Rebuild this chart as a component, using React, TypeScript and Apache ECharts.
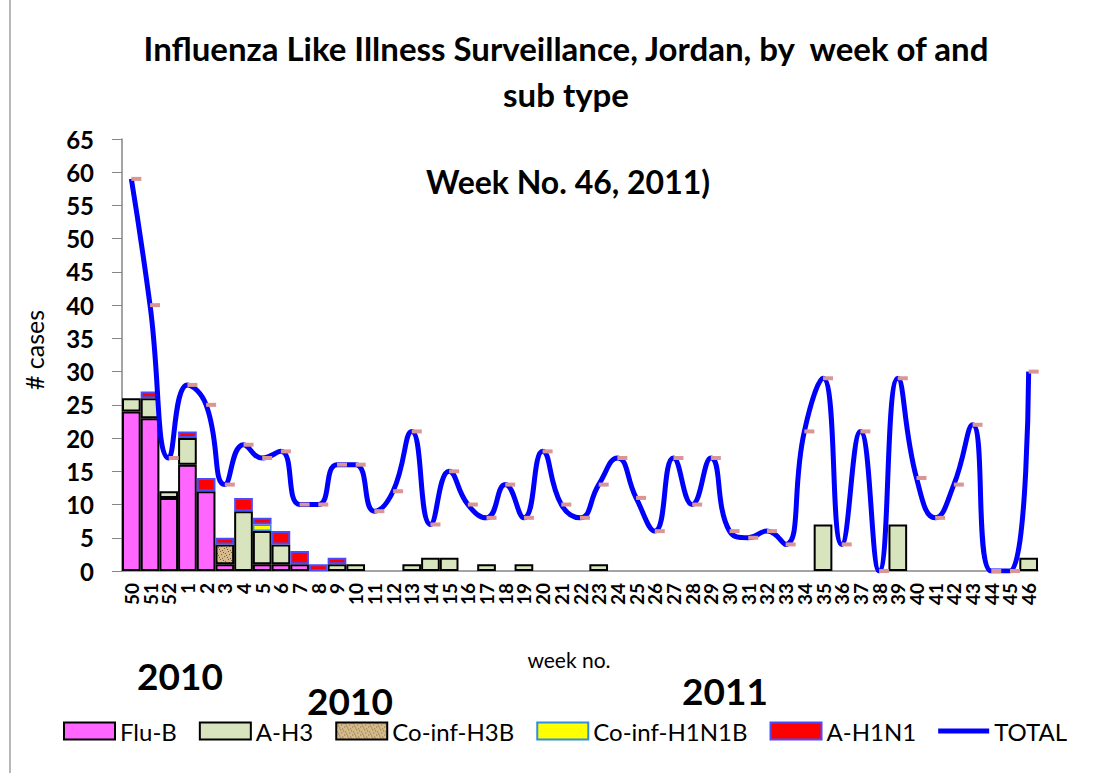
import React, { useEffect, useRef } from 'react';
import * as echarts from 'echarts';

const weeks = ['50', '51', '52', '1', '2', '3', '4', '5', '6', '7', '8', '9', '10', '11', '12', '13', '14', '15', '16', '17', '18', '19', '20', '21', '22', '23', '24', '25', '26', '27', '28', '29', '30', '31', '32', '33', '34', '35', '36', '37', '38', '39', '40', '41', '42', '43', '44', '45', '46'];

const fluB = [24, 23, 11, 16, 12, 1, 0, 1, 1, 1, 0, 0, 0, 0, 0, 0, 0, 0, 0, 0, 0, 0, 0, 0, 0, 0, 0, 0, 0, 0, 0, 0, 0, 0, 0, 0, 0, 0, 0, 0, 0, 0, 0, 0, 0, 0, 0, 0, 0];
const aH3 = [2, 3, 1, 4, 0, 0, 9, 5, 3, 0, 0, 1, 1, 0, 0, 1, 2, 2, 0, 1, 0, 1, 0, 0, 0, 1, 0, 0, 0, 0, 0, 0, 0, 0, 0, 0, 0, 7, 0, 0, 0, 7, 0, 0, 0, 0, 0, 0, 2];
const coInfH3B = [0, 0, 0, 0, 0, 3, 0, 0, 0, 0, 0, 0, 0, 0, 0, 0, 0, 0, 0, 0, 0, 0, 0, 0, 0, 0, 0, 0, 0, 0, 0, 0, 0, 0, 0, 0, 0, 0, 0, 0, 0, 0, 0, 0, 0, 0, 0, 0, 0];
const coInfH1N1B = [0, 0, 0, 0, 0, 0, 0, 1, 0, 0, 0, 0, 0, 0, 0, 0, 0, 0, 0, 0, 0, 0, 0, 0, 0, 0, 0, 0, 0, 0, 0, 0, 0, 0, 0, 0, 0, 0, 0, 0, 0, 0, 0, 0, 0, 0, 0, 0, 0];
const aH1N1 = [0, 1, 0, 1, 2, 1, 2, 1, 2, 2, 1, 1, 0, 0, 0, 0, 0, 0, 0, 0, 0, 0, 0, 0, 0, 0, 0, 0, 0, 0, 0, 0, 0, 0, 0, 0, 0, 0, 0, 0, 0, 0, 0, 0, 0, 0, 0, 0, 0];
const total = [59, 40, 17, 28, 25, 13, 19, 17, 18, 10, 10, 16, 16, 9, 12, 21, 7, 15, 10, 8, 13, 8, 18, 10, 8, 13, 17, 11, 6, 17, 10, 17, 6, 5, 6, 4, 21, 29, 4, 21, 0, 29, 14, 8, 13, 22, 0, 0, 30];

const yTicks = { min: 0, max: 65, interval: 5 };

const FONT = 'Lato, "Open Sans", sans-serif';

export default function App() {
  const ref = useRef<HTMLDivElement>(null);
  useEffect(() => {
    const chart = echarts.init(ref.current!, null, { renderer: 'svg' });

    const cv = document.createElement('canvas');
    cv.width = 8;
    cv.height = 8;
    const ctx = cv.getContext('2d')!;
    ctx.fillStyle = '#d6bb8c';
    ctx.fillRect(0, 0, 8, 8);
    ctx.fillStyle = '#7c5c34';
    [[1, 1], [5, 2], [3, 5], [6, 6], [0, 4], [2, 3], [7, 0], [4, 7]].forEach(([x, y]) => ctx.fillRect(x, y, 1, 1));
    const texture: any = { image: cv, repeat: 'repeat' };

    const nz = (arr: number[]) => arr.map((v) => (v === 0 ? '-' : v));

    const barBase = {
      type: 'bar',
      stack: 'cases',
      barCategoryGap: '0%',
      barGap: '0%',
      z: 2,
    };

    chart.setOption({
      animation: false,
      backgroundColor: '#fff',
      grid: { left: 122, right: 72, top: 139, bottom: 202, containLabel: false },
      legend: {
        left: 58,
        top: 714,
        itemWidth: 51,
        itemHeight: 17,
        itemGap: 22,
        textStyle: { fontFamily: FONT, fontSize: 24, color: '#000' },
        data: [
          { name: 'Flu-B', icon: 'rect' },
          { name: 'A-H3', icon: 'rect' },
          { name: 'Co-inf-H3B', icon: 'rect' },
          { name: 'Co-inf-H1N1B', icon: 'rect' },
          { name: 'A-H1N1', icon: 'rect' },
          { name: 'TOTAL', icon: 'path://M0,0 L53,0 L53,5 L0,5 Z', itemStyle: { color: '#0000ff', borderWidth: 0 } },
        ],
      },
      xAxis: {
        type: 'category',
        data: weeks,
        axisLine: { lineStyle: { color: '#868686', width: 1.5 } },
        axisTick: { interval: 0, length: 7, lineStyle: { color: '#868686' } },
        axisLabel: {
          interval: 0,
          rotate: 90,
          fontFamily: FONT,
          fontWeight: 'bold',
          fontSize: 19,
          color: '#000',
          margin: 12,
        },
      },
      yAxis: {
        type: 'value',
        min: yTicks.min,
        max: yTicks.max,
        interval: yTicks.interval,
        axisLine: { show: true, lineStyle: { color: '#868686', width: 1.5 } },
        axisTick: { show: true, length: 10, lineStyle: { color: '#868686' } },
        splitLine: { show: false },
        axisLabel: { fontFamily: FONT, fontWeight: 'bold', fontSize: 24, color: '#000', margin: 28 },
      },
      series: [
        { ...barBase, name: 'Flu-B', data: nz(fluB), itemStyle: { color: '#ff66ff', borderColor: '#000', borderWidth: 2 } },
        { ...barBase, name: 'A-H3', data: nz(aH3), itemStyle: { color: '#d7e4bd', borderColor: '#000', borderWidth: 2 } },
        { ...barBase, name: 'Co-inf-H3B', data: nz(coInfH3B), itemStyle: { color: texture, borderColor: '#000', borderWidth: 2 } },
        { ...barBase, name: 'Co-inf-H1N1B', data: nz(coInfH1N1B), itemStyle: { color: '#ffff00', borderColor: '#2f8fdf', borderWidth: 1.5 } },
        { ...barBase, name: 'A-H1N1', data: nz(aH1N1), itemStyle: { color: '#ff0000', borderColor: '#4a4aff', borderWidth: 2 } },
        {
          type: 'line',
          name: 'TOTAL',
          data: total,
          smooth: 0.5,
          z: 5,
          lineStyle: { color: '#0000ff', width: 5 },
          itemStyle: { color: '#d99694' },
          symbol: 'rect',
          symbolSize: [10, 4],
          symbolOffset: [5, 0],
          showAllSymbol: true,
        },
      ],
      graphic: [
        { type: 'line', shape: { x1: 10, y1: 0, x2: 10, y2: 773 }, style: { stroke: '#a0a0a0', lineWidth: 1.5 } },
        { type: 'text', x: 566, y: 48, style: { text: 'Influenza Like Illness Surveillance, Jordan, by  week of and', fontFamily: FONT, fontWeight: 'bold', fontSize: 33, fill: '#000', align: 'center', verticalAlign: 'middle' } },
        { type: 'text', x: 566, y: 94, style: { text: 'sub type', fontFamily: FONT, fontWeight: 'bold', fontSize: 33, fill: '#000', align: 'center', verticalAlign: 'middle' } },
        { type: 'text', x: 568, y: 181, style: { text: 'Week No. 46, 2011)', fontFamily: FONT, fontWeight: 'bold', fontSize: 32, fill: '#000', align: 'center', verticalAlign: 'middle' } },
        { type: 'text', x: 34, y: 350, rotation: Math.PI / 2, style: { text: '# cases', fontFamily: FONT, fontSize: 25, fill: '#000', align: 'center', verticalAlign: 'middle' } },
        { type: 'text', x: 569, y: 659, style: { text: 'week no.', fontFamily: FONT, fontSize: 21, fill: '#000', align: 'center', verticalAlign: 'middle' } },
        { type: 'text', x: 180, y: 675, style: { text: '2010', fontFamily: FONT, fontWeight: 'bold', fontSize: 37, fill: '#000', align: 'center', verticalAlign: 'middle' } },
        { type: 'text', x: 350, y: 700, style: { text: '2010', fontFamily: FONT, fontWeight: 'bold', fontSize: 37, fill: '#000', align: 'center', verticalAlign: 'middle' } },
        { type: 'text', x: 725, y: 690, style: { text: '2011', fontFamily: FONT, fontWeight: 'bold', fontSize: 37, fill: '#000', align: 'center', verticalAlign: 'middle' } },
      ],
    });
    return () => chart.dispose();
  }, []);
  return <div ref={ref} style={{ position: 'fixed', left: 0, top: 0, width: 1110, height: 773, background: '#fff' }} />;
}
